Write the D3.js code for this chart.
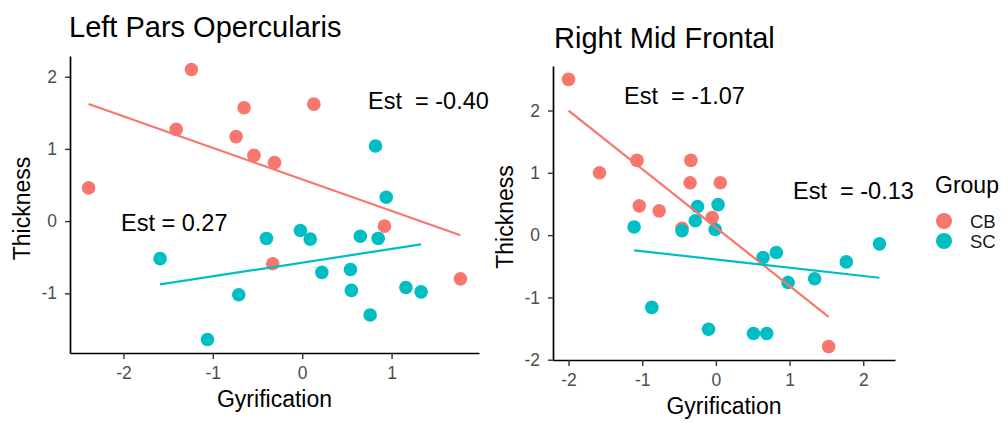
<!DOCTYPE html>
<html>
<head>
<meta charset="utf-8">
<script src="https://cdn.jsdelivr.net/npm/d3@7"></script>
<style>
  body { margin: 0; background: #fff; }
  svg { display: block; font-family: "Liberation Sans", Arial, Helvetica, sans-serif; }
</style>
</head>
<body>
<div id="chart"></div>
<script>
// values, [gyrification, thickness]
const leftCB = [[-2.39, 0.46], [-1.24, 2.10], [-1.41, 1.27], [-0.65, 1.57], [-0.74, 1.17], [-0.54, 0.91],
  [-0.31, 0.81], [0.13, 1.62], [0.92, -0.07], [-0.33, -0.59], [1.77, -0.80]];
const leftSC = [[0.82, 1.04], [0.94, 0.33], [-1.59, -0.52], [-0.40, -0.24], [-0.02, -0.13], [0.09, -0.25],
  [0.65, -0.21], [0.85, -0.24], [0.22, -0.71], [0.54, -0.67], [0.55, -0.96], [-0.71, -1.02],
  [0.76, -1.30], [1.16, -0.92], [1.33, -0.98], [-1.06, -1.64]];
const rightCB = [[-2.00, 2.50], [-1.58, 1.00], [-1.07, 1.20], [-1.04, 0.47], [-0.77, 0.39], [-0.34, 1.20],
  [-0.35, 0.84], [0.06, 0.84], [-0.46, 0.11], [-0.05, 0.28], [1.53, -1.79]];
const rightSC = [[-1.11, 0.13], [-0.25, 0.46], [-0.28, 0.23], [0.03, 0.49], [-0.01, 0.09], [-0.46, 0.07],
  [0.64, -0.36], [0.82, -0.28], [0.98, -0.76], [1.34, -0.70], [1.77, -0.43], [2.22, -0.14],
  [-0.87, -1.16], [-0.10, -1.51], [0.51, -1.58], [0.69, -1.58]];

const groups = ['CB', 'SC'];
const groupColors = ['#F8766D', '#00BFC4'];
const leftXTicks = [-2, -1, 0, 1];
const leftYTicks = [-1, 0, 1, 2];
const rightXTicks = [-2, -1, 0, 1, 2];
const rightYTicks = [-2, -1, 0, 1, 2];

const width = 1008;
const height = 424;

const svg = d3.select('#chart').append('svg')
  .attr('width', width)
  .attr('height', height);

const color = d3.scaleOrdinal().domain(groups).range(groupColors);

// ggplot style 5% expansion
function expanded(vals) {
  const [a, b] = d3.extent(vals);
  const pad = (b - a) * 0.05;
  return [a - pad, b + pad];
}

function linFit(pts) {
  const mx = d3.mean(pts, (d) => d[0]);
  const my = d3.mean(pts, (d) => d[1]);
  const sxy = d3.sum(pts, (d) => (d[0] - mx) * (d[1] - my));
  const sxx = d3.sum(pts, (d) => (d[0] - mx) ** 2);
  const b = sxy / sxx;
  const a = my - b * mx;
  const [x0, x1] = d3.extent(pts, (d) => d[0]);
  return [[x0, a + b * x0], [x1, a + b * x1]];
}

const panels = [
  {
    title: 'Left Pars Opercularis', titleX: 69, titleY: 37,
    left: 70, right: 479, top: 56, bottom: 353,
    series: { CB: leftCB, SC: leftSC },
    xTicks: leftXTicks, yTicks: leftYTicks,
    labels: [
      { text: 'Est  = -0.40', x: 368, y: 109 },
      { text: 'Est = 0.27', x: 121, y: 231 },
    ],
  },
  {
    title: 'Right Mid Frontal', titleX: 554, titleY: 48,
    left: 553, right: 895, top: 66, bottom: 360,
    series: { CB: rightCB, SC: rightSC },
    xTicks: rightXTicks, yTicks: rightYTicks,
    labels: [
      { text: 'Est  = -1.07', x: 624, y: 104 },
      { text: 'Est  = -0.13', x: 793, y: 199 },
    ],
  },
];

panels.forEach((p) => {
  const all = groups.flatMap((k) => p.series[k]);
  const x = d3.scaleLinear().domain(expanded(all.map((d) => d[0]))).range([p.left, p.right]);
  const y = d3.scaleLinear().domain(expanded(all.map((d) => d[1]))).range([p.bottom, p.top]);

  const g = svg.append('g');

  // axes (hyphen minus like ggplot)
  const fmt = (d) => String(d);
  const xAxis = g.append('g')
    .attr('transform', `translate(0,${p.bottom})`)
    .call(d3.axisBottom(x).tickValues(p.xTicks).tickFormat(fmt).tickSize(6).tickSizeOuter(0).tickPadding(8));
  const yAxis = g.append('g')
    .attr('transform', `translate(${p.left},0)`)
    .call(d3.axisLeft(y).tickValues(p.yTicks).tickFormat(fmt).tickSize(5).tickSizeOuter(0).tickPadding(8));

  [xAxis, yAxis].forEach((ax) => {
    ax.select('.domain').attr('stroke', '#000').attr('stroke-width', 1.7);
    ax.selectAll('.tick line').attr('stroke', '#333').attr('stroke-width', 1.4);
    ax.selectAll('.tick text')
      .attr('fill', '#4d4d4d')
      .attr('font-size', '17.5px')
      .attr('font-family', '"Liberation Sans", Arial, sans-serif');
  });

  // points
  groups.forEach((k) => {
    g.append('g').selectAll('circle')
      .data(p.series[k])
      .join('circle')
      .attr('cx', (d) => x(d[0]))
      .attr('cy', (d) => y(d[1]))
      .attr('r', 6.8)
      .attr('fill', color(k));
  });

  // fitted lines
  groups.forEach((k) => {
    const fit = linFit(p.series[k]);
    g.append('line')
      .attr('x1', x(fit[0][0])).attr('y1', y(fit[0][1]))
      .attr('x2', x(fit[1][0])).attr('y2', y(fit[1][1]))
      .attr('stroke', color(k))
      .attr('stroke-width', 2.2);
  });

  // text
  g.append('text')
    .attr('x', p.titleX).attr('y', p.titleY)
    .attr('font-size', '29px')
    .attr('fill', '#000')
    .text(p.title);

  p.labels.forEach((l) => {
    g.append('text')
      .attr('x', l.x).attr('y', l.y)
      .attr('font-size', '23.5px')
      .attr('fill', '#000')
      .style('white-space', 'pre')
      .text(l.text);
  });

  g.append('text')
    .attr('x', (p.left + p.right) / 2)
    .attr('y', p.bottom + 54)
    .attr('text-anchor', 'middle')
    .attr('font-size', '23px')
    .text('Gyrification');

  g.append('text')
    .attr('transform', `translate(${p.left - 40},${(p.top + p.bottom) / 2 + 4}) rotate(-90)`)
    .attr('text-anchor', 'middle')
    .attr('font-size', '23px')
    .text('Thickness');
});

// legend
const legend = svg.append('g').attr('transform', 'translate(935,0)');
legend.append('text')
  .attr('x', 0).attr('y', 193)
  .attr('font-size', '23px')
  .text('Group');

legend.selectAll('g.key')
  .data(groups)
  .join('g')
  .attr('class', 'key')
  .attr('transform', (d, i) => `translate(0,${221 + i * 20})`)
  .each(function (d) {
    const k = d3.select(this);
    k.append('circle').attr('cx', 9).attr('cy', 0).attr('r', 8).attr('fill', color(d));
    k.append('text').attr('x', 35).attr('y', 6.5).attr('font-size', '18.5px').attr('fill', '#1a1a1a').text(d);
  });
</script>
</body>
</html>
